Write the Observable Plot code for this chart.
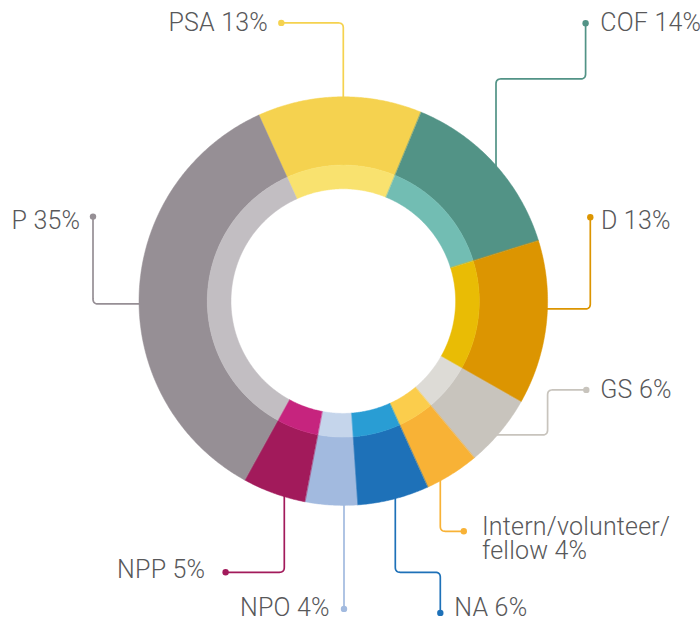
<!DOCTYPE html>
<html><head><meta charset="utf-8">
<script src="https://cdn.jsdelivr.net/npm/d3@7"></script>
<script src="https://cdn.jsdelivr.net/npm/@observablehq/plot@0.6"></script>
<style>
html,body{margin:0;padding:0;background:#fff;}
#chart svg{display:block;}
#chart svg text{letter-spacing:0.2px;}
</style></head>
<body><div id="chart"></div>
<script>
// ---- data (clockwise from the top) ----
const categories = ["PSA", "COF", "D", "GS", "Intern/volunteer/fellow", "NA", "NPO", "NPP", "P"];
const shares = [13, 14, 13, 5.7, 4.3, 5.7, 4.1, 5.0, 35.2];
const outerColors = ["#f5d24f", "#529386", "#dc9501", "#c8c4bd", "#f8b236", "#1e71b8", "#a2badf", "#a21a5b", "#968f95"];
const innerColors = ["#f9e26f", "#72bdb3", "#e9bc05", "#dddbd6", "#fbcd4c", "#299dd4", "#c5d5eb", "#c6247e", "#c2bec2"];

// ---- layout (chart units = pixels relative to donut centre) ----
const W = 700, H = 618, CX = 342.8, CY = 300.6;
const R_OUT = 204.3, R_MID = 136, R_IN = 112.3;
const START_ANGLE = -24.4;
// leader routes start at the dot; "rim" = run to the outer edge
const labelLayout = [
  {route: [[-62, -278.2], [0, -278.2], [0, "rim"]], anchor: "end", tx: -75.3, ty: -277.7},
  {route: [[242.3, -277.8], [242.3, -222.2], [152.7, -222.2], [152.7, "rim"]], anchor: "start", tx: 257, ty: -277.8},
  {route: [[247, -83.8], [247, 7.8], ["rim", 7.8]], anchor: "start", tx: 257.7, ty: -79.6},
  {route: [[243, 88.8], [204.3, 88.8], [204.3, 133.8], ["rim", 133.8]], anchor: "start", tx: 257, ty: 89.4},
  {route: [[120.5, 230.2], [97, 230.2], [97, "rim"]], anchor: "start", tx: 138.7, ty: 238.7},
  {route: [[97, 311.8], [97, 271.2], [52, 271.2], [52, "rim"]], anchor: "start", tx: 111, ty: 307.2},
  {route: [[0.7, 307.8], [0.7, "rim"]], anchor: "end", tx: -13.5, ty: 307.2},
  {route: [[-117.7, 271.2], [-59, 271.2], [-59, "rim"]], anchor: "end", tx: -138, ty: 269.4},
  {route: [[-250.3, -84.5], [-250.3, 2.8], ["rim", 2.8]], anchor: "end", tx: -263, ty: -79.9}
];

const rad = a => a * Math.PI / 180;
const total = d3.sum(shares);

// slices
const slicePts = [];
let acc = START_ANGLE;
categories.forEach((cat, i) => {
  const a0 = acc, a1 = acc + shares[i] / total * 360;
  acc = a1;
  for (const [ring, r0, r1, col] of [["o", R_MID, R_OUT, outerColors[i]], ["i", R_IN, R_MID, innerColors[i]]]) {
    const n = Math.max(2, Math.ceil((a1 - a0) / 0.5));
    const key = cat + ring;
    for (let k = 0; k <= n; k++) {
      const a = rad(a0 + (a1 - a0) * k / n);
      slicePts.push({key, color: col, x: r1 * Math.sin(a), y: -r1 * Math.cos(a)});
    }
    for (let k = n; k >= 0; k--) {
      const a = rad(a0 + (a1 - a0) * k / n);
      slicePts.push({key, color: col, x: r0 * Math.sin(a), y: -r0 * Math.cos(a)});
    }
  }
});

// leaders with rounded corners
function resolveRoute(route) {
  const rr = R_OUT - 3;
  return route.map((p, i) => {
    if (p[1] === "rim") { const s = Math.sign(route[i - 1][1]) || 1; return [p[0], s * Math.sqrt(rr * rr - p[0] * p[0])]; }
    if (p[0] === "rim") { const s = Math.sign(route[i - 1][0]) || 1; return [s * Math.sqrt(rr * rr - p[1] * p[1]), p[1]]; }
    return p;
  });
}
function roundCorners(pts, r = 5, steps = 8) {
  const out = [pts[0]];
  for (let i = 1; i < pts.length - 1; i++) {
    const [px, py] = pts[i - 1], [cx, cy] = pts[i], [nx, ny] = pts[i + 1];
    const l1 = Math.hypot(cx - px, cy - py), l2 = Math.hypot(nx - cx, ny - cy);
    const rr = Math.min(r, l1 / 2, l2 / 2);
    const ax = cx - (cx - px) / l1 * rr, ay = cy - (cy - py) / l1 * rr;
    const bx = cx + (nx - cx) / l2 * rr, by = cy + (ny - cy) / l2 * rr;
    for (let k = 0; k <= steps; k++) {
      const t = k / steps, u = 1 - t;
      out.push([u * u * ax + 2 * u * t * cx + t * t * bx, u * u * ay + 2 * u * t * cy + t * t * by]);
    }
  }
  out.push(pts[pts.length - 1]);
  return out;
}
const leaderPts = [], dots = [], labels = [];
categories.forEach((cat, i) => {
  const L = labelLayout[i];
  const pts = roundCorners(resolveRoute(L.route));
  pts.forEach(([x, y]) => leaderPts.push({key: cat, color: outerColors[i], x, y}));
  dots.push({x: L.route[0][0], y: L.route[0][1], color: outerColors[i]});
  const name = cat.replace("volunteer/", "volunteer/\n");
  labels.push({label: `${name} ${Math.round(shares[i])}%`, x: L.tx, y: L.ty, anchor: L.anchor});
});

const textOpts = {x: "x", y: "y", text: "label", fontSize: 25, fontWeight: 300, fill: "#58585a", lineHeight: 0.96};
const chart = Plot.plot({
  width: W, height: H, margin: 0,
  x: {domain: [-CX, W - CX], range: [0, W], axis: null},
  y: {domain: [-CY, H - CY], range: [0, H], axis: null},
  color: {type: "identity"},
  style: {fontFamily: "Roboto, 'Noto Sans', sans-serif", background: "#fff"},
  marks: [
    Plot.line(leaderPts, {x: "x", y: "y", z: "key", stroke: "color", strokeWidth: 1.7, curve: "linear"}),
    Plot.line(slicePts, {x: "x", y: "y", z: "key", fill: "color", stroke: "color", strokeWidth: 0.5, curve: "linear-closed"}),
    Plot.dot(dots, {x: "x", y: "y", r: 3.2, fill: "color"}),
    Plot.text(labels.filter(d => d.anchor === "start"), {...textOpts, textAnchor: "start"}),
    Plot.text(labels.filter(d => d.anchor === "end"), {...textOpts, textAnchor: "end"})
  ]
});
document.getElementById("chart").append(chart);
</script>
</body></html>
